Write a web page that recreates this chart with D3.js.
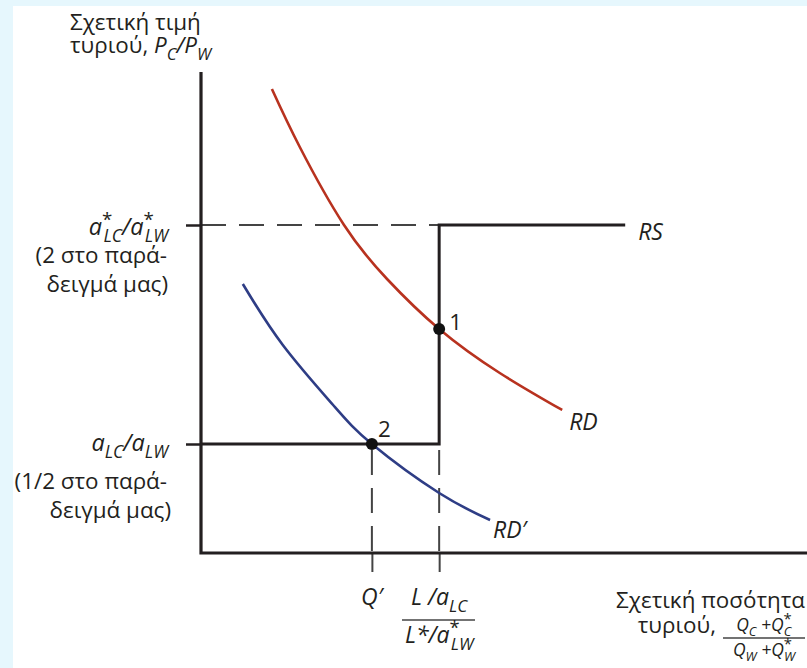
<!DOCTYPE html>
<html><head><meta charset="utf-8">
<script src="https://cdn.jsdelivr.net/npm/d3@7"></script>
<style>
html,body{margin:0;padding:0;background:#e6f7fd;}
svg{display:block;font-family:"Open Sans","Noto Sans",sans-serif;fill:#231f20;}
</style></head>
<body>
<svg id="c" width="807" height="668"></svg>
<script>
// ---- data (arbitrary schematic units) ----
const rdX  = [11.7, 16.3, 23.6, 30.7, 39.3, 49.3, 59.6];
const rdY  = [92.8, 81.2, 65.6, 54.8, 44.8, 36.0, 28.6];
const rdpX = [6.9, 13.5, 21.8, 28.2, 39.3, 47.7];
const rdpY = [53.8, 41.6, 29.6, 21.8, 12.0, 6.6];
const priceLevels = [21.8, 65.6];      // a_LC/a_LW , a*_LC/a*_LW
const quantityLevels = [28.2, 39.3];   // Q' , L/a_LC / L*/a*_LW
const rsEndX = 70;
const eqX = [39.3, 28.2];
const eqY = [44.8, 21.8];
const eqLabels = ["1", "2"];
const curveLabels = ["RD", "RD′"];
const axisMax = {x: 100, y: 96.2};

const W = 807, H = 668;
const svg = d3.select("#c");
const x = d3.scaleLinear().domain([0, 100]).range([201, 807]);
const y = d3.scaleLinear().domain([0, 100]).range([553, 53]);
const ink = "#231f20";

svg.append("rect").attr("x", 13).attr("y", 6).attr("width", W - 13).attr("height", H - 6).attr("fill", "#fff");

const line = d3.line().x(d => x(d[0])).y(d => y(d[1]));

// dashed guides
svg.append("path").attr("d", line([[0, priceLevels[1]], [quantityLevels[1], priceLevels[1]]]))
  .attr("stroke", "#444").attr("stroke-width", 2).attr("fill", "none").attr("stroke-dasharray", "25,13");
quantityLevels.forEach(q => {
  svg.append("path").attr("d", line([[q, priceLevels[0]], [q, 0]]))
    .attr("stroke", "#444").attr("stroke-width", 2).attr("fill", "none")
    .attr("stroke-dasharray", "25,13").attr("stroke-dashoffset", 32);
});
// x ticks (below axis)
const xAxis = d3.axisBottom(x).tickValues(quantityLevels).tickSize(19).tickSizeOuter(0).tickFormat("");
const gx = svg.append("g").attr("transform", `translate(0,${y(0)})`).call(xAxis);
gx.select(".domain").remove();
gx.selectAll("line").attr("stroke", "#444").attr("stroke-width", 2);

// y ticks
const yAxis = d3.axisLeft(y).tickValues(priceLevels).tickSize(15).tickSizeOuter(0).tickFormat("");
const gy = svg.append("g").attr("transform", `translate(${x(0)},0)`).call(yAxis);
gy.select(".domain").remove();
gy.selectAll("line").attr("stroke", ink).attr("stroke-width", 2.5);

// RS step
svg.append("path").attr("d", line([[0, priceLevels[0]], [quantityLevels[1], priceLevels[0]],
  [quantityLevels[1], priceLevels[1]], [rsEndX, priceLevels[1]]]))
  .attr("stroke", ink).attr("stroke-width", 3).attr("fill", "none").attr("stroke-linejoin", "miter");

// axes
svg.append("path").attr("d", line([[0, axisMax.y], [0, 0], [axisMax.x, 0]]))
  .attr("stroke", ink).attr("stroke-width", 3.2).attr("fill", "none");

// curves
const cl = d3.line().x(d => x(d[0])).y(d => y(d[1])).curve(d3.curveNatural);
svg.append("path").attr("d", cl(rdX.map((v, i) => [v, rdY[i]])))
  .attr("stroke", "#b8321f").attr("stroke-width", 2.6).attr("fill", "none");
svg.append("path").attr("d", cl(rdpX.map((v, i) => [v, rdpY[i]])))
  .attr("stroke", "#2e3d85").attr("stroke-width", 2.6).attr("fill", "none");

// equilibrium points
svg.selectAll("circle.eq").data(eqX).join("circle").attr("class", "eq")
  .attr("cx", d => x(d)).attr("cy", (d, i) => y(eqY[i])).attr("r", 6).attr("fill", "#111");

// ---- text helper ----
function rich(px, py, parts, size, anchor) {
  const t = svg.append("text").attr("x", px).attr("y", py).attr("font-size", size)
    .attr("text-anchor", anchor || "start").attr("fill", ink);
  let shift = 0;
  parts.forEach(p => {
    const s = t.append("tspan").text(p.t);
    const target = p.sub ? size * 0.3 : p.sup ? -size * 0.38 : 0;
    s.attr("dy", target - shift); shift = target;
    if (p.sub || p.sup) s.attr("font-size", size * (p.ss || 0.74));
    if (p.dx) s.attr("dx", p.dx);
    if (p.i) s.attr("font-style", "italic");
  });
  return t;
}

const F = 22.4;
// y axis title
rich(70, 30, [{t: "Σχετική τιμή"}], F);
rich(70, 53, [{t: "τυριού, "}, {t: "P", i: 1}, {t: "C", i: 1, sub: 1}, {t: "/P", i: 1}, {t: "W", i: 1, sub: 1}], F);

// y tick labels
rich(168, 235, [{t: "a", i: 1}, {t: "*", sup: 1, ss: 0.8}, {t: "LC", sub: 1, i: 1, dx: -9}, {t: "/a", i: 1},
  {t: "*", sup: 1, ss: 0.8}, {t: "LW", sub: 1, i: 1, dx: -9}], 23.5, "end");
rich(167, 263, [{t: "(2 στο παρά-"}], F, "end");
rich(168, 292, [{t: "δειγμά μας)"}], F, "end");
rich(168, 451, [{t: "a", i: 1}, {t: "LC", sub: 1, i: 1}, {t: "/a", i: 1}, {t: "LW", sub: 1, i: 1}], 23.5, "end");
rich(167, 489, [{t: "(1/2 στο παρά-"}], F, "end");
rich(171, 518, [{t: "δειγμά μας)"}], F, "end");

// x tick labels
rich(x(quantityLevels[0]), 605, [{t: "Q′", i: 1}], 23, "middle");
rich(x(quantityLevels[1]), 605, [{t: "L", i: 1}, {t: " /a", i: 1}, {t: "LC", sub: 1, i: 1}], 23, "middle");
svg.append("line").attr("x1", 402).attr("x2", 475).attr("y1", 620).attr("y2", 620).attr("stroke", "#444").attr("stroke-width", 1.5);
rich(x(quantityLevels[1]), 643, [{t: "L*/a", i: 1}, {t: "*", sup: 1, ss: 0.8}, {t: "LW", sub: 1, i: 1, dx: -9}], 23, "middle");

// x axis title
rich(805, 608, [{t: "Σχετική ποσότητα"}], F, "end");
rich(716, 633, [{t: "τυριού,"}], F, "end");
rich(764, 631, [{t: "Q", i: 1}, {t: "C", sub: 1, i: 1}, {t: " +Q", i: 1}, {t: "*", sup: 1, ss: 0.85}, {t: "C", sub: 1, i: 1, dx: -8}], 17.5, "middle");
svg.append("line").attr("x1", 723).attr("x2", 805).attr("y1", 638).attr("y2", 638).attr("stroke", "#444").attr("stroke-width", 1.3);
rich(764, 656, [{t: "Q", i: 1}, {t: "W", sub: 1, i: 1}, {t: " +Q", i: 1}, {t: "*", sup: 1, ss: 0.85}, {t: "W", sub: 1, i: 1, dx: -8}], 17.5, "middle");

// curve / line labels
rich(x(rsEndX) + 13, 240, [{t: "RS", i: 1}], 23);
rich(x(rdX[rdX.length - 1]) + 7, 430, [{t: curveLabels[0], i: 1}], 23);
rich(x(rdpX[rdpX.length - 1]) + 3, 538, [{t: curveLabels[1], i: 1}], 23);
eqLabels.forEach((l, i) => {
  rich(x(eqX[i]) + (i === 0 ? 10 : 6), y(eqY[i]) + (i === 0 ? 1 : -7), [{t: l}], F);
});
</script>
</body></html>
